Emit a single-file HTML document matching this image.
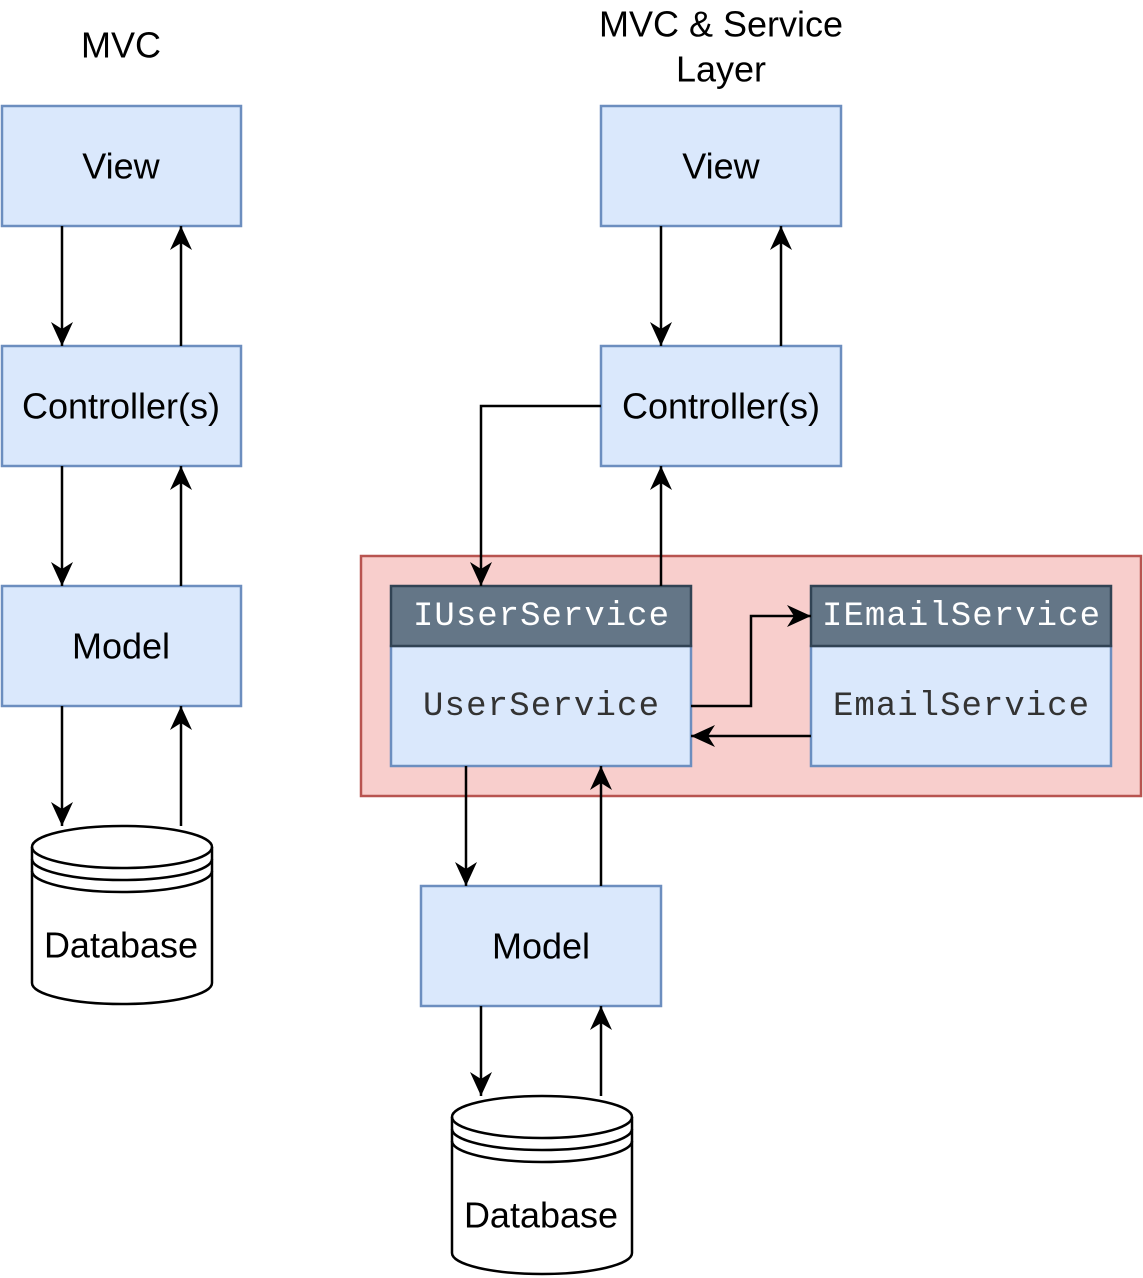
<!DOCTYPE html>
<html><head><meta charset="utf-8"><style>html,body{margin:0;padding:0;background:#fff}svg{display:block}</style></head>
<body>
<svg width="1143" height="1278" viewBox="0 0 1143 1278" xmlns="http://www.w3.org/2000/svg">
<defs>
<marker id="a" viewBox="0 0 24 22" refX="24" refY="11" markerWidth="24" markerHeight="22" markerUnits="userSpaceOnUse" orient="auto"><path d="M0,0 L24,11 L0,22 L7,11 z" fill="#000"/></marker>
</defs>
<style>
text{font-family:"Liberation Sans",sans-serif;font-size:36px;fill:#000;text-anchor:middle;dominant-baseline:central}
.m{font-family:"Liberation Mono",monospace;font-size:34px}
.b{fill:#dae8fc;stroke:#6c8ebf;stroke-width:2.5}
.l{stroke:#000;stroke-width:2.5;fill:none}
</style>
<text x="121" y="45">MVC</text>
<text x="721" y="24">MVC &amp; Service</text>
<text x="721" y="69">Layer</text>
<rect x="361" y="556" width="780" height="240" fill="#f8cecc" stroke="#b85450" stroke-width="2.5"/>
<rect class="b" x="2" y="106" width="239" height="120"/><text x="121" y="166">View</text>
<rect class="b" x="2" y="346" width="239" height="120"/><text x="121" y="406">Controller(s)</text>
<rect class="b" x="2" y="586" width="239" height="120"/><text x="121" y="646">Model</text>
<rect class="b" x="601" y="106" width="240" height="120"/><text x="721" y="166">View</text>
<rect class="b" x="601" y="346" width="240" height="120"/><text x="721" y="406">Controller(s)</text>
<rect class="b" x="421" y="886" width="240" height="120"/><text x="541" y="946">Model</text>
<rect class="b" x="391" y="646" width="300" height="120"/>
<rect x="391" y="586" width="300" height="60" fill="#647687" stroke="#314354" stroke-width="2.5"/>
<text class="m" x="541" y="617" style="fill:#fff" textLength="256" lengthAdjust="spacing">IUserService</text>
<text class="m" x="541" y="707" style="fill:#333" textLength="236" lengthAdjust="spacing">UserService</text>
<rect class="b" x="811" y="646" width="300" height="120"/>
<rect x="811" y="586" width="300" height="60" fill="#647687" stroke="#314354" stroke-width="2.5"/>
<text class="m" x="961" y="617" style="fill:#fff" textLength="278" lengthAdjust="spacing">IEmailService</text>
<text class="m" x="961" y="707" style="fill:#333" textLength="256" lengthAdjust="spacing">EmailService</text>
<g id="cyl">
<path d="M32,847 a90,21 0 0 1 180,0 v136 a90,21 0 0 1 -180,0 z" fill="#fff" stroke="#000" stroke-width="2.5"/>
<path class="l" d="M32,847 a90,21 0 0 0 180,0 M32,859 a90,21 0 0 0 180,0 M32,871 a90,21 0 0 0 180,0"/>
<text x="121" y="945">Database</text>
</g>
<use href="#cyl" x="420" y="270"/>
<g class="l" marker-end="url(#a)">
<path d="M62,226 V346"/><path d="M181,346 V226"/>
<path d="M62,466 V586"/><path d="M181,586 V466"/>
<path d="M62,706 V826"/><path d="M181,826 V706"/>
<path d="M661,226 V346"/><path d="M781,346 V226"/>
<path d="M601,406 H481 V586"/><path d="M661,586 V466"/>
<path d="M691,706 H751 V616 H811"/><path d="M811,736 H691"/>
<path d="M466,766 V886"/><path d="M601,886 V766"/>
<path d="M481,1006 V1096"/><path d="M601,1096 V1006"/>
</g>
</svg>
</body></html>
